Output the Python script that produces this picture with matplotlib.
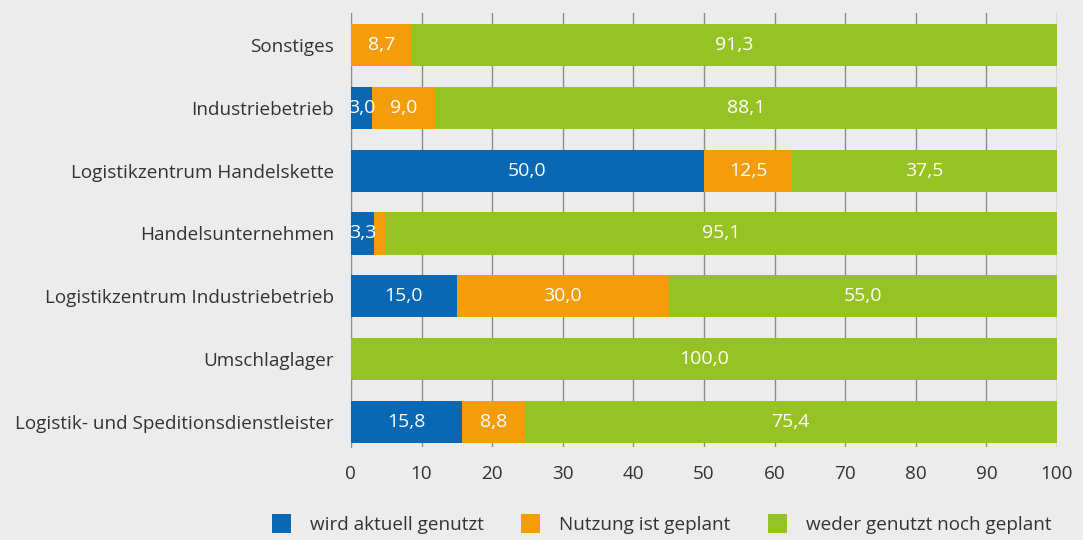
import numpy as np
import matplotlib.pyplot as plt

plt.rcParams['font.family'] = ['Open Sans', 'DejaVu Sans']

categories = ['Logistik- und Speditionsdienstleister', 'Umschlaglager',
              'Logistikzentrum Industriebetrieb', 'Handelsunternehmen',
              'Logistikzentrum Handelskette', 'Industriebetrieb', 'Sonstiges']
genutzt = [15.8, 0.0, 15.0, 3.3, 50.0, 3.0, 0.0]
geplant = [8.8, 0.0, 30.0, 1.6, 12.5, 9.0, 8.7]
weder = [75.4, 100.0, 55.0, 95.1, 37.5, 88.1, 91.3]
series_names = ['wird aktuell genutzt', 'Nutzung ist geplant', 'weder genutzt noch geplant']
colors = ['#0868b4', '#f59c0a', '#97c224']
min_label = 2.0

bg = '#ececec'
fig = plt.figure(figsize=(10.83, 5.4), dpi=100, facecolor=bg)
ax = fig.add_axes([0.324, 0.172, 0.652, 0.804])
ax.set_facecolor(bg)

y = np.arange(len(categories))
left = np.zeros(len(categories))
for vals, col, name in zip([genutzt, geplant, weder], colors, series_names):
    vals = np.array(vals)
    ax.barh(y, vals, left=left, height=0.67, color=col, label=name, zorder=3)
    for yi, l, v in zip(y, left, vals):
        if v >= min_label:
            ax.text(l + v / 2, yi, f'{v:.1f}'.replace('.', ','), ha='center', va='center',
                    color='white', fontsize=14, zorder=4)
    left += vals

ax.set_xlim(0, 100)
ax.set_ylim(-0.4, 6.51)
ax.set_xticks(np.arange(0, 101, 10))
ax.set_yticks(y)
ax.set_yticklabels(categories)
ax.tick_params(length=0, labelsize=13.6, colors='#333333')
ax.tick_params(axis='x', pad=13)
ax.tick_params(axis='y', pad=12)
ax.grid(axis='x', color='#8c8c8c', linewidth=1, zorder=0)
for s in ['top', 'right', 'bottom']:
    ax.spines[s].set_visible(False)
ax.spines['left'].set_color('#8c8c8c')

leg = fig.legend(loc='lower center', bbox_to_anchor=(0.611, -0.02), ncol=3, frameon=False,
                 fontsize=13.6, handlelength=1.0, handleheight=1.2, columnspacing=2.0,
                 handletextpad=1.0)
for t in leg.get_texts():
    t.set_color('#333333')

fig.savefig('out.png', dpi=100, facecolor=bg)
